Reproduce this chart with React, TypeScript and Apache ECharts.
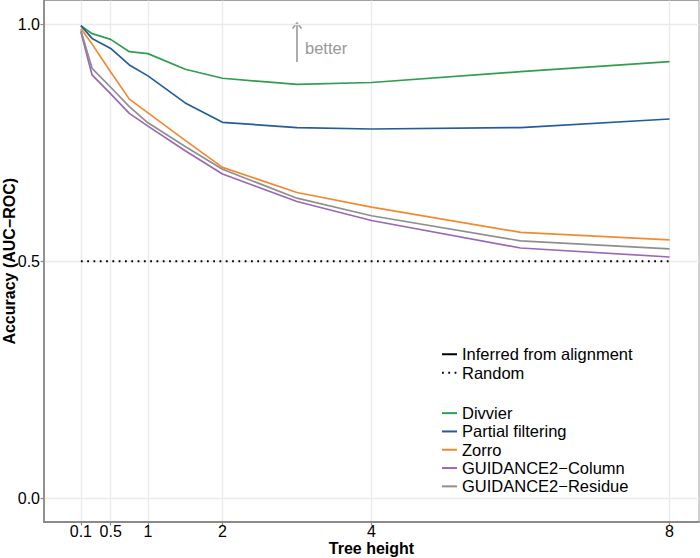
import React, { useEffect, useRef } from "react";
import * as echarts from "echarts";

const treeHeights = [0.1, 0.25, 0.5, 0.75, 1, 1.5, 2, 3, 4, 6, 8];
const xTicks = [0.1, 0.5, 1, 2, 4, 8];
const yTicks = [0, 0.5, 1];

const divvier = [0.997, 0.98, 0.968, 0.942, 0.938, 0.905, 0.886, 0.873, 0.877, 0.9, 0.921];
const partialFiltering = [0.997, 0.97, 0.949, 0.914, 0.891, 0.834, 0.793, 0.782, 0.779, 0.782, 0.8];
const zorro = [0.991, 0.958, 0.899, 0.842, 0.813, 0.755, 0.698, 0.645, 0.614, 0.561, 0.545];
const guidanceColumn = [0.984, 0.893, 0.853, 0.812, 0.785, 0.733, 0.684, 0.626, 0.586, 0.528, 0.509];
const guidanceResidue = [0.987, 0.907, 0.867, 0.826, 0.792, 0.742, 0.694, 0.633, 0.596, 0.543, 0.526];
const randomLevel = 0.5;

const methodNames = ["Divvier", "Partial filtering", "Zorro", "GUIDANCE2\u2212Column", "GUIDANCE2\u2212Residue"];
const methodValues = [divvier, partialFiltering, zorro, guidanceColumn, guidanceResidue];
const methodColors = ["#2f9e4f", "#235d99", "#f08a32", "#9a68b5", "#8f8f8f"];

const FONT = "'Liberation Sans', Arial, Helvetica, sans-serif";

export default function App() {
  const ref = useRef<HTMLDivElement>(null);
  useEffect(() => {
    if (!ref.current) return;
    const chart = echarts.init(ref.current, null, { renderer: "svg" });
    const methodSeries = methodNames.map((name, i) => ({
      name,
      type: "line",
      data: treeHeights.map((x, j) => [x, methodValues[i][j]]),
      symbol: "none",
      color: methodColors[i],
      lineStyle: { width: 1.7, color: methodColors[i] },
      z: 3,
    }));
    const legendCommon = {
      orient: "vertical",
      left: 441,
      padding: 0,
      itemGap: 0,
      itemWidth: 15,
      itemHeight: 12,
      selectedMode: false,
      itemStyle: { opacity: 0, borderWidth: 0 },
    };
    const option: any = {
      animation: false,
      backgroundColor: "#ffffff",
      textStyle: { fontFamily: FONT },
      grid: {
        left: 44,
        right: 1,
        top: 0.5,
        bottom: 36,
        outerBoundsMode: "none",
        containLabel: false,
        show: true,
        borderColor: "#a0a0a0",
        borderWidth: 1,
        backgroundColor: "transparent",
      },
      xAxis: {
        type: "value",
        min: -0.395,
        max: 8.395,
        name: "Tree height",
        nameLocation: "middle",
        nameGap: 18.5,
        nameMoveOverlap: false,
        nameTextStyle: { fontSize: 16, fontWeight: "bold", color: "#000", fontFamily: FONT },
        axisLine: { show: true, onZero: false, lineStyle: { color: "#8a8a8a", width: 1.8 } },
        axisTick: { show: true, length: 3.5, customValues: xTicks, lineStyle: { color: "#8a8a8a", width: 1.2 } },
        axisLabel: {
          customValues: xTicks,
          color: "#000",
          fontSize: 16,
          margin: 1.5,
          fontFamily: FONT,
          formatter: (v: number) => String(v),
        },
        splitLine: { show: true, lineStyle: { color: "#ebebeb", width: 1.4 } },
      },
      yAxis: {
        type: "value",
        min: -0.05,
        max: 1.05,
        name: "Accuracy (AUC\u2212ROC)",
        nameLocation: "middle",
        nameGap: 27,
        nameMoveOverlap: false,
        nameRotate: 90,
        nameTextStyle: { fontSize: 16, fontWeight: "bold", color: "#000", fontFamily: FONT },
        axisLine: { show: true, onZero: false, lineStyle: { color: "#8a8a8a", width: 1.8 } },
        axisTick: { show: true, length: 3.5, customValues: yTicks, lineStyle: { color: "#8a8a8a", width: 1.2 } },
        axisLabel: {
          customValues: yTicks,
          color: "#000",
          fontSize: 16,
          margin: 4,
          fontFamily: FONT,
          formatter: (v: number) => v.toFixed(1),
        },
        splitLine: { show: true, lineStyle: { color: "#ebebeb", width: 1.4 } },
      },
      legend: [
        {
          ...legendCommon,
          data: ["Inferred from alignment", "Random"],
          top: 345,
          textStyle: { fontSize: 16.5, color: "#000", lineHeight: 18.5, fontFamily: FONT },
        },
        {
          ...legendCommon,
          data: methodNames,
          top: 404,
          textStyle: { fontSize: 16.5, color: "#000", lineHeight: 18.3, fontFamily: FONT },
        },
      ],
      graphic: [
        {
          type: "line",
          shape: { x1: 297, y1: 62, x2: 297, y2: 23 },
          style: { stroke: "#999999", lineWidth: 1.6 },
        },
        {
          type: "polyline",
          shape: { points: [[292.5, 28.5], [297, 23], [301.5, 28.5]] },
          style: { stroke: "#999999", lineWidth: 1.6, fill: null },
        },
        {
          type: "text",
          x: 305,
          y: 48,
          style: {
            text: "better",
            fill: "#999999",
            fontSize: 16.5,
            fontFamily: FONT,
            verticalAlign: "middle",
            align: "left",
          },
        },
      ],
      series: [
        {
          name: "Inferred from alignment",
          type: "line",
          data: [],
          symbol: "none",
          color: "#000",
          lineStyle: { width: 1.7, color: "#000" },
        },
        {
          name: "Random",
          type: "line",
          data: [[treeHeights[0], randomLevel], [treeHeights[treeHeights.length - 1], randomLevel]],
          symbol: "none",
          color: "#000",
          lineStyle: { width: 1.8, color: "#000", type: [1.8, 4.5] },
          z: 2,
        },
        ...methodSeries,
      ],
    };
    chart.setOption(option);
    return () => chart.dispose();
  }, []);
  return (
    <div
      ref={ref}
      style={{ position: "fixed", left: 0, top: 0, width: 700, height: 558, background: "#fff" }}
    />
  );
}
